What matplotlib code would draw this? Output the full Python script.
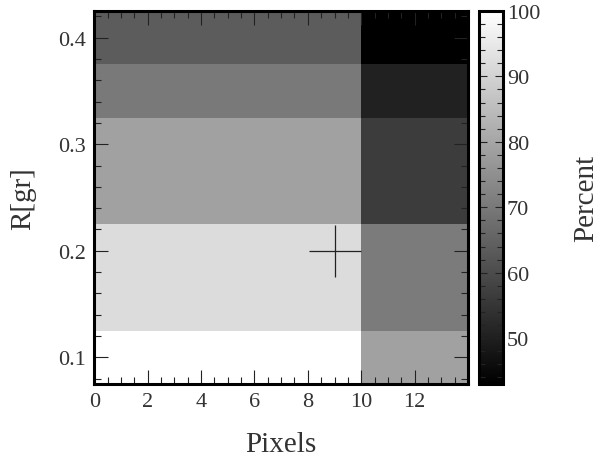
import numpy as np
import matplotlib
matplotlib.use('Agg')
import matplotlib.pyplot as plt
from matplotlib.ticker import MultipleLocator

# cell edges
x_edges = [0, 10, 14]
y_edges = [0.075, 0.125, 0.225, 0.325, 0.375, 0.425]

# percent per cell, rows bottom -> top, cols left/right
left_col = [100, 92, 79, 70, 63.5]
right_col = [79, 70.5, 56.5, 50.5, 43]

# marker
best_x = [9]
best_y = [0.2]

x_ticks = [0, 2, 4, 6, 8, 10, 12]
vmin, vmax = 43, 100

plt.rcParams['font.family'] = ['Liberation Serif', 'DejaVu Serif']
txt = '#333333'

fig = plt.figure(figsize=(6, 4.6), dpi=100)
ax = fig.add_axes([0.157, 0.163, 0.623, 0.811])
cax = fig.add_axes([0.798, 0.163, 0.040, 0.811])

C = np.array([left_col, right_col]).T
mesh = ax.pcolormesh(x_edges, y_edges, C, cmap='gray', vmin=vmin, vmax=vmax)
ax.plot(best_x, best_y, marker='+', ms=38, mew=0.9, color='#222222', ls='none')

ax.set_xlim(0, 14)
ax.set_ylim(0.075, 0.425)
ax.set_xticks(x_ticks)
ax.xaxis.set_minor_locator(MultipleLocator(0.5))
ax.yaxis.set_major_locator(MultipleLocator(0.1))
ax.yaxis.set_minor_locator(MultipleLocator(0.02))
ax.tick_params(which='both', direction='in', top=True, right=True,
               colors='#222222', labelcolor=txt, labelsize=16)
ax.tick_params(which='major', length=10, width=0.8, pad=6)
ax.tick_params(which='minor', length=5, width=0.8)
for s in ax.spines.values():
    s.set_linewidth(2.2)
ax.set_xlabel('Pixels', fontsize=21, color=txt, labelpad=14)
ax.set_ylabel('R[gr]', fontsize=21, color=txt, labelpad=16)

cb = fig.colorbar(mesh, cax=cax)
cb.set_ticks([50, 60, 70, 80, 90, 100])
cax.yaxis.set_minor_locator(MultipleLocator(2))
cax.tick_params(which='both', direction='in', left=True, right=True,
                colors='#222222', labelcolor=txt, labelsize=16)
cax.tick_params(which='major', length=6, width=0.8, pad=3)
cax.tick_params(which='minor', length=4, width=0.8)
cb.outline.set_linewidth(2.2)
cb.set_label('Percent', fontsize=21, color=txt, labelpad=24)

fig.savefig('out.png', dpi=100)
